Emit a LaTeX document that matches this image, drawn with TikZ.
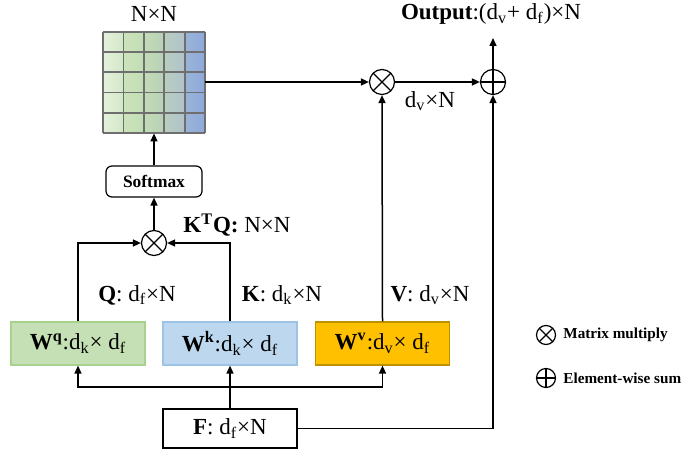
\documentclass[tikz,border=0pt]{standalone}
\usepackage{fontspec}
\setmainfont{Liberation Serif}
\usetikzlibrary{arrows.meta, positioning, calc}
\definecolor{qGreen}{HTML}{C5E0B4}
\definecolor{qGreenLine}{HTML}{A9D18E}
\definecolor{kBlue}{HTML}{BDD7EE}
\definecolor{kBlueLine}{HTML}{9DC3E6}
\definecolor{vGold}{HTML}{FFC000}
\definecolor{vGoldLine}{HTML}{BF9000}
\definecolor{gridGray}{HTML}{6F6F6F}

\begin{document}
\begin{tikzpicture}[x=0.5pt,y=-0.5pt,
        every node/.style={font=\fontsize{11.5pt}{13pt}\selectfont,align=center,inner sep=1pt},
        arr/.style={-{Triangle[length=4pt,width=3.5pt]},line width=0.75pt},
        wbox/.style={minimum width=67pt,minimum height=21.5pt,line width=0.6pt},
        opmul/.style={circle,draw,line width=0.6pt,minimum size=12.5pt,inner sep=0pt,
          path picture={\draw[line width=0.6pt] (path picture bounding box.north west) -- (path picture bounding box.south east)
            (path picture bounding box.north east) -- (path picture bounding box.south west);}},
        opsum/.style={circle,draw,line width=0.6pt,minimum size=12.5pt,inner sep=0pt,
          path picture={\draw[line width=0.6pt] (path picture bounding box.north) -- (path picture bounding box.south)
            (path picture bounding box.east) -- (path picture bounding box.west);}}]
        \useasboundingbox (0,0) rectangle (684,453);
        % attention map
        \foreach \i/\cl/\cr in {0/E4F1DC/D3E8C7,1/CBE4BC/C2DDB4,2/C3DCB6/B8D0B8,3/B9CEBF/AFC3CB,4/9BB4D8/8EA9DB}{
          \definecolor{cl}{HTML}{\cl}\definecolor{cr}{HTML}{\cr}
          \shade[left color=cl,right color=cr] (103+20.4*\i,32) rectangle (123.4+20.4*\i,133);}
        \foreach \i in {0,...,5}{
          \draw[gridGray,line width=0.9pt] (103+20.4*\i,32) -- (103+20.4*\i,133);
          \draw[gridGray,line width=0.9pt] (103,32+20.2*\i) -- (205,32+20.2*\i);}
        \node[minimum width=51pt,minimum height=50.5pt,inner sep=0pt] (attn) at (154,82.5) {};
        \node (nxn) at (154,14) {N×N};
        \node[draw,rounded corners=3pt,line width=0.6pt,minimum width=48pt,minimum height=15.5pt,
          font=\fontsize{8.7pt}{10pt}\selectfont\bfseries] (soft) at (154,181.5) {Softmax};
        \node[opmul] (mulqk) at (154,243) {};
        \node[anchor=west] (kq) at (181,225) {\textbf{K\textsuperscript{T}Q:} N×N};
        % projections
        \node[wbox,draw=qGreenLine,fill=qGreen] (wq) at (78,343.5) {\textbf{W\textsuperscript{q}}:d\textsubscript{k}× d\textsubscript{f}};
        \node[wbox,draw=kBlueLine,fill=kBlue] (wk) at (230,343.5) {\textbf{W\textsuperscript{k}}:d\textsubscript{k}× d\textsubscript{f}};
        \node[wbox,draw=vGoldLine,fill=vGold] (wv) at (382.5,343.5) {\textbf{W\textsuperscript{v}}:d\textsubscript{v}× d\textsubscript{f}};
        \node[draw,line width=0.6pt,minimum width=67pt,minimum height=19.5pt] (feat) at (230,428.5) {\textbf{F}: d\textsubscript{f}×N};
        \node (qlab) at (137,295) {\textbf{Q}: d\textsubscript{f}×N};
        \node (klab) at (282,295) {\textbf{K}: d\textsubscript{k}×N};
        \node (vlab) at (430,295) {\textbf{V}: d\textsubscript{v}×N};
        % output side
        \node[opmul] (mulv) at (382,82) {};
        \node[opsum] (sum) at (493,82) {};
        \node (dvn) at (430,101) {d\textsubscript{v}×N};
        \node (outlab) at (491,14) {\textbf{Output}:(d\textsubscript{v}+ d\textsubscript{f})×N};
        \coordinate (outtip) at (493,38);
        \coordinate (split) at (230,387);
        % legend
        \node[opmul,minimum size=9.5pt] (legmul) at (546,335) {};
        \node[anchor=west,font=\fontsize{7.6pt}{9pt}\selectfont\bfseries] (legmultxt) at (561,335) {Matrix multiply};
        \node[opsum,minimum size=9.5pt] (legsum) at (546,378) {};
        \node[anchor=west,font=\fontsize{7.6pt}{9pt}\selectfont\bfseries] (legsumtxt) at (561,378) {Element-wise sum};
        % connectors
        \draw[arr] (feat.north) -- (wk.south);
        \draw[arr] (split) -| (wq.south);
        \draw[arr] (split) -| (wv.south);
        \draw[arr] (wq.north) |- (mulqk.west);
        \draw[arr] (wk.north) |- (mulqk.east);
        \draw[arr] (mulqk.north) -- (soft.south);
        \draw[arr] (soft.north) -- (attn.south);
        \draw[arr] (attn.east |- mulv.west) -- (mulv.west);
        \draw[arr] (wv.north) -- (mulv.south);
        \draw[arr] (mulv.east) -- (sum.west);
        \draw[arr] (feat.east) -| (sum.south);
        \draw[arr] (sum.north) -- (outtip);
      \end{tikzpicture}
\end{document}
